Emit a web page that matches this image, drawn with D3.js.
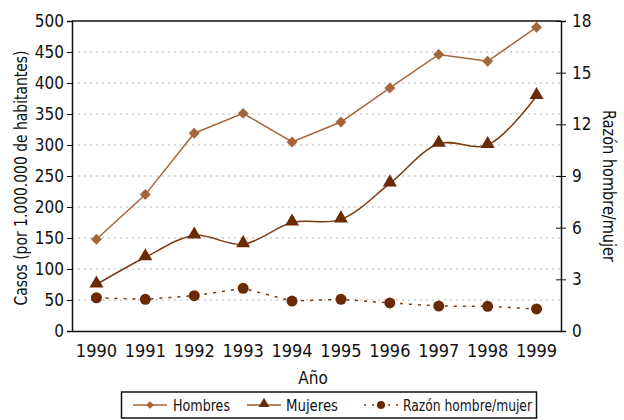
<!DOCTYPE html>
<html>
<head>
<meta charset="utf-8">
<script src="https://cdn.jsdelivr.net/npm/d3@7"></script>
<style>
  body { margin: 0; background: #fff; }
  svg text { font-family: "Liberation Sans Narrow", "DejaVu Sans Condensed", sans-serif; fill: #111; }
</style>
</head>
<body>
<svg width="624" height="420"></svg>
<script>
// data
const years = ["1990","1991","1992","1993","1994","1995","1996","1997","1998","1999"];
const hombres = [148, 220, 319, 351, 305, 337, 392, 446, 435, 490];
const mujeres = [75, 119, 154, 140, 175, 180, 238, 302, 300, 379];
const razon = [1.93, 1.84, 2.05, 2.48, 1.74, 1.84, 1.63, 1.45, 1.43, 1.28];
const leftTicks = [0, 50, 100, 150, 200, 250, 300, 350, 400, 450, 500];
const rightTicks = [0, 3, 6, 9, 12, 15, 18];

const cLight = "#a5653b";
const cDark = "#6a2b04";
const cDarkLine = "#7a3a12";

const svg = d3.select("svg");
const m = { left: 72, right: 561, top: 21, bottom: 331 };

const x = d3.scaleBand().domain(years).range([m.left, m.right]);
const cx = d => x(d) + x.bandwidth() / 2;
const yL = d3.scaleLinear().domain([0, 500]).range([m.bottom, m.top]);
const yR = d3.scaleLinear().domain([0, 18]).range([m.bottom, m.top]);

// grid
svg.append("g").selectAll("line")
  .data(leftTicks.filter(t => t > 0 && t < 500))
  .join("line")
  .attr("x1", m.left).attr("x2", m.right)
  .attr("y1", d => yL(d)).attr("y2", d => yL(d))
  .attr("stroke", "#b5b5b5").attr("stroke-width", 1)
  .attr("stroke-dasharray", "2,4");

// frame top
svg.append("line")
  .attr("x1", m.left).attr("x2", m.right)
  .attr("y1", m.top).attr("y2", m.top)
  .attr("stroke", "#111").attr("stroke-width", 1.5);

// left axis
const gL = svg.append("g").attr("transform", `translate(${m.left},0)`)
  .call(d3.axisLeft(yL).tickValues(leftTicks).tickSize(5).tickPadding(3));
gL.select(".domain").attr("stroke", "#111").attr("stroke-width", 1.5);
gL.selectAll("text").style("font-size", "17px").attr("fill", "#111");

// right axis
const gR = svg.append("g").attr("transform", `translate(${m.right},0)`)
  .call(d3.axisRight(yR).tickValues(rightTicks).tickSize(5).tickPadding(6));
gR.select(".domain").attr("stroke", "#111").attr("stroke-width", 1.5);
gR.selectAll(".tick line").attr("x1", -5).attr("stroke", "#111");
gR.selectAll("text").style("font-size", "17px").attr("fill", "#111");

// bottom axis
const gB = svg.append("g").attr("transform", `translate(0,${m.bottom})`)
  .call(d3.axisBottom(x).tickSize(0).tickPadding(13));
gB.select(".domain").attr("stroke", "#111").attr("stroke-width", 1.5);
gB.selectAll("text").style("font-size", "18px").attr("fill", "#111");

// axis titles
svg.append("text")
  .attr("transform", `translate(27,${(m.top + m.bottom) / 2 + 2}) rotate(-90)`)
  .attr("text-anchor", "middle").style("font-size", "17px")
  .attr("textLength", 255).attr("lengthAdjust", "spacingAndGlyphs")
  .text("Casos (por 1.000.000 de habitantes)");
svg.append("text")
  .attr("transform", `translate(603,${(m.top + m.bottom) / 2 + 10}) rotate(90)`)
  .attr("text-anchor", "middle").style("font-size", "17px")
  .attr("textLength", 152).attr("lengthAdjust", "spacingAndGlyphs")
  .text("Razón hombre/mujer");
svg.append("text")
  .attr("x", 313).attr("y", 384)
  .attr("text-anchor", "middle").style("font-size", "17px")
  .text("Año");

// lines
const lineL = d3.line().x((d, i) => cx(years[i])).y(d => yL(d));
svg.append("path").datum(hombres)
  .attr("d", lineL).attr("fill", "none").attr("stroke", cLight).attr("stroke-width", 1.5);
svg.append("path").datum(mujeres)
  .attr("d", lineL.curve(d3.curveCatmullRom.alpha(0.5)))
  .attr("fill", "none").attr("stroke", cDarkLine).attr("stroke-width", 1.5);
const lineR = d3.line().x((d, i) => cx(years[i])).y(d => yR(d));
svg.append("path").datum(razon)
  .attr("d", lineR).attr("fill", "none").attr("stroke", cDarkLine)
  .attr("stroke-width", 1.5).attr("stroke-dasharray", "3,6");

// markers
const triangle = d3.symbol().type(d3.symbolTriangle).size(85);

svg.append("g").selectAll("path").data(hombres).join("path")
  .attr("transform", (d, i) => `translate(${cx(years[i])},${yL(d)}) rotate(45)`)
  .attr("d", d3.symbol().type(d3.symbolSquare).size(60))
  .attr("fill", cLight);
svg.append("g").selectAll("path").data(mujeres).join("path")
  .attr("transform", (d, i) => `translate(${cx(years[i])},${yL(d) - 1})`)
  .attr("d", triangle).attr("fill", cDark);
svg.append("g").selectAll("circle").data(razon).join("circle")
  .attr("cx", (d, i) => cx(years[i])).attr("cy", d => yR(d))
  .attr("r", 5.5).attr("fill", cDark);

// legend
const lg = svg.append("g");
lg.append("rect").attr("x", 121.5).attr("y", 392).attr("width", 415).attr("height", 26)
  .attr("fill", "#fff").attr("stroke", "#111").attr("stroke-width", 1.5);
const ly = 405;
const items = [
  { name: "Hombres", x0: 133, tx: 173, w: 57, kind: "d" },
  { name: "Mujeres", x0: 247, tx: 286, w: 52, kind: "t" },
  { name: "Razón hombre/mujer", x0: 364, tx: 403, w: 129, kind: "c" }
];
items.forEach(it => {
  const mid = it.x0 + 17;
  if (it.kind === "c") {
    lg.append("line").attr("x1", it.x0).attr("x2", it.x0 + 35).attr("y1", ly).attr("y2", ly)
      .attr("stroke", cDarkLine).attr("stroke-width", 1.5).attr("stroke-dasharray", "2,6");
    lg.append("circle").attr("cx", mid).attr("cy", ly).attr("r", 4).attr("fill", cDark);
  } else if (it.kind === "t") {
    lg.append("line").attr("x1", it.x0).attr("x2", it.x0 + 34).attr("y1", ly).attr("y2", ly)
      .attr("stroke", "#9a5a30").attr("stroke-width", 1.5);
    lg.append("path").attr("transform", `translate(${mid},${ly - 1})`)
      .attr("d", d3.symbol().type(d3.symbolTriangle).size(50)).attr("fill", cDark);
  } else {
    lg.append("line").attr("x1", it.x0).attr("x2", it.x0 + 34).attr("y1", ly).attr("y2", ly)
      .attr("stroke", cLight).attr("stroke-width", 1.5);
    lg.append("path").attr("transform", `translate(${mid},${ly}) rotate(45)`)
      .attr("d", d3.symbol().type(d3.symbolSquare).size(30)).attr("fill", cLight);
  }
  lg.append("text").attr("x", it.tx).attr("y", ly + 6).style("font-size", "16px")
    .attr("textLength", it.w).attr("lengthAdjust", "spacingAndGlyphs")
    .text(it.name);
});
</script>
</body>
</html>
